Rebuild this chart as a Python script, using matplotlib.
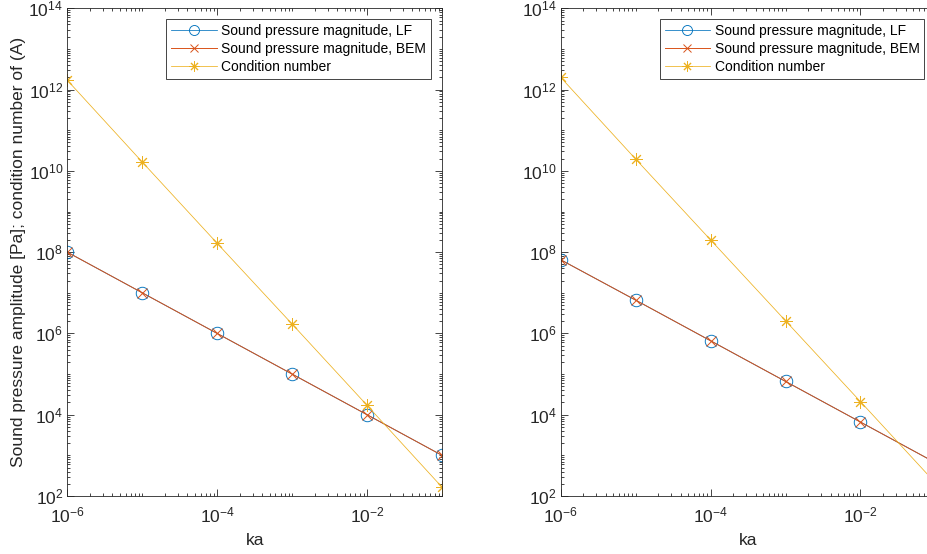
import matplotlib
matplotlib.use("Agg")
import matplotlib.pyplot as plt
from matplotlib.ticker import LogLocator, NullFormatter, LogFormatterSciNotation
import numpy as np

plt.rcParams['font.family'] = ['Liberation Sans', 'DejaVu Sans']
plt.rcParams['mathtext.fontset'] = 'custom'
plt.rcParams['mathtext.rm'] = 'Liberation Sans'
plt.rcParams['mathtext.it'] = 'Liberation Sans'
plt.rcParams['mathtext.default'] = 'regular'

ka = [1e-6, 1e-5, 1e-4, 1e-3, 1e-2, 1e-1]

left_lf = [1e8, 1e7, 1e6, 1e5, 1e4, 1e3]
left_bem = [1e8, 1e7, 1e6, 1e5, 1e4, 1e3]
left_cond = [1.7e12, 1.65e10, 1.65e8, 1.7e6, 1.7e4, 1.65e2]

right_lf = [6.5e7, 6.6e6, 6.6e5, 6.6e4, 6.6e3, 6.6e2]
right_bem = [6.5e7, 6.6e6, 6.6e5, 6.6e4, 6.6e3, 6.6e2]
right_cond = [2.0e12, 1.95e10, 2.0e8, 2.05e6, 2.1e4, 2.1e2]

labels = ['Sound pressure magnitude, LF', 'Sound pressure magnitude, BEM', 'Condition number']
ylabel = 'Sound pressure amplitude [Pa]; condition number of (A)'
xlabel = 'ka'

c_blue = (0, 0.447, 0.741)
c_red = (0.850, 0.325, 0.098)
c_yel = (0.929, 0.694, 0.125)
axc = (0.15, 0.15, 0.15)

W, H = 928, 554
fig = plt.figure(figsize=(W / 100, H / 100), dpi=100)

def px_axes(x0, x1, y0, y1):
    return fig.add_axes([x0 / W, 1 - y1 / H, (x1 - x0) / W, (y1 - y0) / H])

ax1 = px_axes(67.3, 442, 8.3, 496)
ax2 = px_axes(560.7, 935.4, 8.3, 496)

asterisk = (8, 2, 0)

for ax, lf, bem, cond in [(ax1, left_lf, left_bem, left_cond), (ax2, right_lf, right_bem, right_cond)]:
    ax.loglog(ka, lf, '-o', color=c_blue, lw=0.55, ms=9, mfc='none', mew=0.65, label=labels[0])
    ax.loglog(ka, bem, '-x', color=c_red, lw=0.7, ms=7, mew=0.7, label=labels[1])
    ax.loglog(ka, cond, '-', marker=asterisk, color=c_yel, lw=0.55, ms=9, mew=0.7, label=labels[2])
    ax.set_xlim(1e-6, 1e-1)
    ax.set_ylim(1e2, 1e14)
    ax.set_xticks([1e-6, 1e-4, 1e-2])
    ax.set_yticks([1e2, 1e4, 1e6, 1e8, 1e10, 1e12, 1e14])
    ax.xaxis.set_major_formatter(LogFormatterSciNotation())
    ax.yaxis.set_major_formatter(LogFormatterSciNotation())
    ax.xaxis.set_minor_locator(LogLocator(base=10, subs=np.arange(1, 10), numticks=50))
    ax.yaxis.set_minor_locator(LogLocator(base=10, subs=np.arange(1, 10), numticks=50))
    ax.xaxis.set_minor_formatter(NullFormatter())
    ax.yaxis.set_minor_formatter(NullFormatter())
    ax.tick_params(which='both', direction='in', top=True, right=True, colors=axc,
                   labelcolor=(0.15, 0.15, 0.15), width=0.6)
    ax.tick_params(which='major', length=5, labelsize=12.5)
    ax.tick_params(axis='x', which='major', pad=7)
    ax.tick_params(axis='y', which='major', pad=3)
    ax.tick_params(which='minor', length=2.5)
    for s in ax.spines.values():
        s.set_color(axc)
        s.set_linewidth(0.6)
    ax.set_xlabel(xlabel, fontsize=12.5, color=axc, labelpad=5)
    leg = ax.legend(loc='upper right', fontsize=10, handlelength=3.3, handletextpad=0.3,
                    borderpad=0.35, labelspacing=0.28, fancybox=False, framealpha=1,
                    edgecolor=(0.15, 0.15, 0.15), borderaxespad=0.8, markerscale=0.8)
    leg.get_frame().set_linewidth(0.6)

ax1.set_ylabel(ylabel, fontsize=12.5, color=axc, labelpad=2)

fig.savefig('out.png', dpi=100)
